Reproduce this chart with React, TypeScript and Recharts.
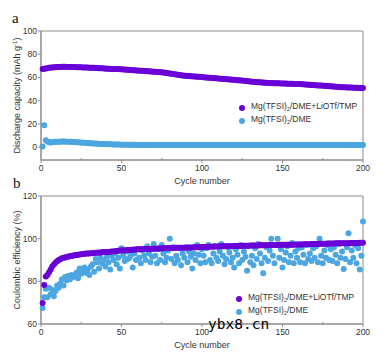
import {
  ScatterChart,
  Scatter,
  XAxis,
  YAxis,
  ReferenceArea,
  Label,
} from 'recharts';

// cycle numbers are 1..200, one point per cycle
const purpleCapacity = [
  67.2, 67.5, 67.8, 68.0, 68.3, 68.5, 68.6, 68.8, 68.9, 69.0,
  69.1, 69.1, 69.2, 69.2, 69.2, 69.1, 69.1, 69.1, 69.0, 69.0,
  69.0, 68.9, 68.9, 68.8, 68.8, 68.7, 68.6, 68.6, 68.5, 68.4,
  68.4, 68.3, 68.3, 68.2, 68.1, 68.0, 67.9, 67.9, 67.8, 67.7,
  67.6, 67.5, 67.5, 67.4, 67.4, 67.3, 67.3, 67.2, 67.1, 67.0,
  66.9, 66.8, 66.7, 66.6, 66.5, 66.4, 66.3, 66.2, 66.1, 66.0,
  65.9, 65.8, 65.7, 65.6, 65.5, 65.4, 65.3, 65.2, 65.1, 65.0,
  64.9, 64.8, 64.7, 64.5, 64.4, 64.2, 64.0, 63.8, 63.6, 63.4,
  63.2, 63.0, 62.8, 62.6, 62.4, 62.2, 62.0, 61.8, 61.6, 61.4,
  61.3, 61.2, 61.1, 61.0, 60.9, 60.8, 60.7, 60.6, 60.5, 60.4,
  60.2, 60.0, 59.9, 59.8, 59.7, 59.6, 59.5, 59.4, 59.3, 59.2,
  59.0, 58.9, 58.8, 58.7, 58.6, 58.5, 58.3, 58.2, 58.1, 58.0,
  57.8, 57.7, 57.6, 57.4, 57.3, 57.2, 57.0, 56.9, 56.7, 56.6,
  56.4, 56.3, 56.2, 56.0, 55.9, 55.8, 55.7, 55.6, 55.5, 55.4,
  55.3, 55.3, 55.2, 55.2, 55.1, 55.1, 55.0, 55.0, 54.9, 54.9,
  54.8, 54.8, 54.7, 54.7, 54.6, 54.6, 54.5, 54.5, 54.4, 54.3,
  54.3, 54.2, 54.1, 54.0, 53.9, 53.8, 53.7, 53.6, 53.5, 53.4,
  53.3, 53.2, 53.1, 53.0, 52.9, 52.8, 52.7, 52.6, 52.5, 52.4,
  52.3, 52.2, 52.1, 52.0, 51.9, 51.8, 51.7, 51.6, 51.5, 51.4,
  51.4, 51.3, 51.3, 51.2, 51.2, 51.1, 51.1, 51.0, 51.0, 50.9,
];

const blueCapacity = [
  0.6, 19.0, 6.0, 5.0, 4.3, 4.0, 4.2, 4.4, 4.6, 4.7,
  4.8, 4.8, 4.9, 4.9, 4.9, 4.8, 4.8, 4.7, 4.6, 4.5,
  4.4, 4.3, 4.2, 4.1, 4.0, 3.9, 3.8, 3.7, 3.6, 3.5,
  3.4, 3.3, 3.2, 3.1, 3.0, 2.9, 2.8, 2.8, 2.7, 2.7,
  2.6, 2.6, 2.5, 2.5, 2.4, 2.4, 2.3, 2.3, 2.3, 2.2,
  2.2, 2.2, 2.2, 2.1, 2.1, 2.1, 2.1, 2.1, 2.0, 2.0,
  2.0, 2.0, 2.0, 2.0, 2.0, 2.0, 2.0, 2.0, 2.0, 2.0,
  2.0, 2.0, 2.0, 2.0, 2.0, 2.0, 2.0, 2.0, 2.0, 2.0,
  2.0, 2.0, 2.0, 2.0, 1.9, 1.9, 1.9, 1.9, 1.9, 1.9,
  1.9, 1.9, 1.9, 1.9, 1.9, 1.9, 1.9, 1.9, 1.9, 1.9,
  1.9, 1.9, 1.9, 1.9, 1.9, 1.9, 1.9, 1.9, 1.9, 1.9,
  1.9, 1.9, 1.9, 1.9, 1.9, 1.9, 1.9, 1.9, 1.9, 1.9,
  1.9, 1.9, 1.9, 1.9, 1.9, 1.9, 1.9, 1.9, 1.9, 1.9,
  1.9, 1.9, 1.9, 1.9, 1.9, 1.9, 1.9, 1.9, 1.9, 1.9,
  1.8, 1.8, 1.8, 1.8, 1.8, 1.8, 1.8, 1.8, 1.8, 1.8,
  1.8, 1.8, 1.8, 1.8, 1.8, 1.8, 1.8, 1.8, 1.8, 1.8,
  1.8, 1.8, 1.8, 1.8, 1.8, 1.8, 1.8, 1.8, 1.8, 1.8,
  1.8, 1.8, 1.8, 1.8, 1.8, 1.8, 1.8, 1.8, 1.8, 1.8,
  1.8, 1.8, 1.8, 1.8, 1.8, 1.8, 1.8, 1.8, 1.8, 1.8,
  1.8, 1.8, 1.8, 1.8, 1.8, 1.8, 1.8, 1.8, 1.8, 1.8,
];

const purpleEfficiency = [
  69.8, 78.3, 82.3, 83.0, 84.3, 85.6, 86.9, 87.9, 88.7, 89.4,
  90.0, 90.4, 90.8, 91.0, 91.2, 91.4, 91.6, 91.8, 91.9, 92.1,
  92.2, 92.4, 92.5, 92.6, 92.7, 92.8, 92.9, 93.0, 93.0, 93.1,
  93.2, 93.2, 93.3, 93.4, 93.4, 93.5, 93.5, 93.6, 93.7, 93.7,
  93.8, 93.8, 93.9, 94.0, 94.0, 94.1, 94.2, 94.3, 94.4, 94.5,
  94.5, 94.6, 94.6, 94.7, 94.7, 94.8, 94.8, 94.9, 94.9, 95.0,
  95.0, 95.0, 95.1, 95.1, 95.1, 95.2, 95.2, 95.2, 95.3, 95.3,
  95.3, 95.4, 95.4, 95.4, 95.5, 95.5, 95.5, 95.5, 95.6, 95.6,
  95.6, 95.6, 95.7, 95.7, 95.7, 95.7, 95.8, 95.8, 95.8, 95.8,
  95.9, 95.9, 95.9, 95.9, 96.0, 96.0, 96.0, 96.0, 96.1, 96.1,
  96.1, 96.1, 96.2, 96.2, 96.2, 96.2, 96.3, 96.3, 96.3, 96.3,
  96.4, 96.4, 96.4, 96.4, 96.5, 96.5, 96.5, 96.5, 96.5, 96.6,
  96.6, 96.6, 96.6, 96.6, 96.7, 96.7, 96.7, 96.7, 96.7, 96.8,
  96.8, 96.8, 96.8, 96.8, 96.8, 96.9, 96.9, 96.9, 96.9, 96.9,
  96.9, 97.0, 97.0, 97.0, 97.0, 97.0, 97.0, 97.1, 97.1, 97.1,
  97.1, 97.1, 97.2, 97.2, 97.2, 97.2, 97.2, 97.3, 97.3, 97.3,
  97.3, 97.3, 97.4, 97.4, 97.4, 97.4, 97.4, 97.5, 97.5, 97.5,
  97.5, 97.5, 97.6, 97.6, 97.6, 97.6, 97.6, 97.7, 97.7, 97.7,
  97.7, 97.7, 97.8, 97.8, 97.8, 97.8, 97.8, 97.9, 97.9, 97.9,
  97.9, 97.9, 98.0, 98.0, 98.0, 98.0, 98.0, 98.1, 98.1, 98.1,
];

const blueEfficiency = [
  67.5, 72.5, 76.5, 72.5, 77, 74, 76, 73, 75.5, 78,
  77, 79, 81, 78, 82, 80.5, 82.5, 81, 83, 82,
  82.5, 84, 81.5, 86, 83.5, 85, 86.5, 84, 85.5, 83,
  87, 88, 84.5, 90.5, 89, 86, 91, 88.5, 90, 87,
  91.5, 89, 85.5, 92, 90, 93, 88, 91, 86, 95.5,
  92, 89.5, 94, 90.5, 91, 92.5, 86.5, 93, 90, 95,
  91, 88.5, 94.5, 92, 90, 96.5, 93, 89, 91.5, 97.5,
  92, 88.5, 95, 90, 97, 93, 89, 91, 94.5, 100,
  90.5, 96, 88.5, 92, 90, 95.5, 87.5, 93, 91, 96,
  89, 94, 91.5, 86, 93, 90, 97, 92.5, 88.5, 95,
  92, 89, 95.5, 97, 90, 88.5, 93, 96.5, 91, 89.5,
  94, 97.5, 92, 88, 90.5, 96, 93.5, 89, 91, 86.5,
  95, 92.5, 88.5, 97, 90, 94, 91.5, 85, 96.5, 89,
  92, 87.5, 95.5, 90.5, 97.5, 93, 88.5, 83.8, 91, 96,
  89.5, 94.5, 100, 92, 88.5, 97, 100, 91, 95, 86.5,
  90, 93.5, 96.5, 89, 92, 98, 88.5, 94, 91, 95.5,
  89, 96, 92.5, 88.5, 97, 90.5, 93, 89.5, 95.5, 91,
  96.5, 89, 100, 92, 88.5, 94.5, 91, 97, 90, 95,
  89.5, 96, 92.5, 88.5, 97.5, 91, 94, 85.8, 90.5, 96,
  102.5, 89, 94.5, 91, 97, 88.5, 95.5, 85.5, 92, 108,
];

const cycleTicks = [0, 25, 50, 75, 100, 125, 150, 175, 200];
const capacityTicks = [-10, 0, 10, 20, 30, 40, 50, 60, 70, 80, 90, 100];
const efficiencyTicks = [60, 70, 80, 90, 100, 110, 120];

const PURPLE = '#6a00d8';
const BLUE = '#4ba6e1';
const AXIS = '#8c8c8c';
const TEXT = '#333';
const FONT = '"Liberation Sans", Arial, sans-serif';

const toPoints = (values: number[]) => values.map((v, i) => ({ x: i + 1, y: v }));

const dot = (color: string) => (props: any) => (
  <circle cx={props.cx} cy={props.cy} r={3} fill={color} />
);

const XTick = (props: any) => {
  const { x, y, payload } = props;
  const major = payload.value % 50 === 0;
  return (
    <g>
      <line x1={x} x2={x} y1={y} y2={major ? y + 3 : y - 2} stroke={AXIS} />
      {major && (
        <text x={x} y={y + 11} textAnchor="middle" fontSize={8.5} fill={TEXT} fontFamily={FONT}>
          {payload.value}
        </text>
      )}
    </g>
  );
};

const yTick = (majorStep: number, hideBelow: number) => (props: any) => {
  const { x, y, payload } = props;
  const major = payload.value % majorStep === 0 && payload.value >= hideBelow;
  return (
    <g>
      <line x1={x} x2={major ? x - 3 : x + 2} y1={y} y2={y} stroke={AXIS} />
      {major && (
        <text x={x - 4} y={y + 3} textAnchor="end" fontSize={8.5} fill={TEXT} fontFamily={FONT}>
          {payload.value}
        </text>
      )}
    </g>
  );
};

const XTitle = (props: any) => {
  const vb = props.viewBox;
  return (
    <text x={vb.x + vb.width / 2} y={vb.y + 24} textAnchor="middle" fontSize={9} fill={TEXT} fontFamily={FONT}>
      Cycle number
    </text>
  );
};

const CapacityTitle = (props: any) => {
  const vb = props.viewBox;
  const cy = vb.y + vb.height / 2;
  return (
    <text x={20} y={cy} transform={`rotate(-90, 20, ${cy})`} textAnchor="middle" fontSize={9} fill={TEXT} fontFamily={FONT}>
      Discharge capacity (mAh g
      <tspan dy={-3} fontSize={6}>-1</tspan>
      <tspan dy={3}>)</tspan>
    </text>
  );
};

const EfficiencyTitle = (props: any) => {
  const vb = props.viewBox;
  const cy = vb.y + vb.height / 2;
  return (
    <text x={20} y={cy} transform={`rotate(-90, 20, ${cy})`} textAnchor="middle" fontSize={9} fill={TEXT} fontFamily={FONT}>
      Coulombic efficiency (%)
    </text>
  );
};

const LegendRow = ({ color, extra }: { color: string; extra: string }) => (
  <div style={{ display: 'flex', alignItems: 'center', height: 13 }}>
    <span
      style={{
        width: 6,
        height: 6,
        borderRadius: 3,
        background: color,
        display: 'inline-block',
        marginRight: 6,
      }}
    />
    <span>
      Mg(TFSI)<sub style={{ fontSize: 5.5, verticalAlign: -2 }}>2</sub>/DME{extra}
    </span>
  </div>
);

const Legend2 = ({ left, top }: { left: number; top: number }) => (
  <div
    style={{
      position: 'absolute',
      left,
      top,
      fontFamily: FONT,
      fontSize: 8.5,
      color: TEXT,
      lineHeight: '13px',
    }}
  >
    <LegendRow color={PURPLE} extra="+LiOTf/TMP" />
    <LegendRow color={BLUE} extra="" />
  </div>
);

const panelLetter = (left: number, top: number, text: string) => (
  <div
    style={{
      position: 'absolute',
      left,
      top,
      fontFamily: '"Liberation Serif", "Times New Roman", serif',
      fontSize: 15,
      color: '#111',
      lineHeight: '15px',
    }}
  >
    {text}
  </div>
);

export default function App() {
  return (
    <div style={{ position: 'absolute', left: 0, top: 0, width: 387, height: 355, background: '#fff' }}>
      <div style={{ position: 'absolute', left: 0, top: 0 }}>
        <ScatterChart width={387} height={190} margin={{ top: 31, right: 24, bottom: 0, left: 0 }}>
          <XAxis
            type="number"
            dataKey="x"
            domain={[0, 200]}
            ticks={cycleTicks}
            height={30}
            tickSize={0}
            tickMargin={0}
            tick={XTick}
            axisLine={{ stroke: AXIS }}
          >
            <Label content={XTitle} />
          </XAxis>
          <YAxis
            type="number"
            dataKey="y"
            domain={[-11, 100]}
            ticks={capacityTicks}
            width={41}
            tickSize={0}
            tickMargin={0}
            tick={yTick(20, 0)}
            axisLine={{ stroke: AXIS }}
          >
            <Label content={CapacityTitle} />
          </YAxis>
          <ReferenceArea x1={0} x2={200} y1={-11} y2={100} fill="none" stroke={AXIS} />
          <Scatter data={toPoints(blueCapacity)} shape={dot(BLUE)} isAnimationActive={false} />
          <Scatter data={toPoints(purpleCapacity)} shape={dot(PURPLE)} isAnimationActive={false} />
        </ScatterChart>
      </div>

      <div style={{ position: 'absolute', left: 0, top: 180 }}>
        <ScatterChart width={387} height={175} margin={{ top: 16, right: 24, bottom: 0, left: 0 }}>
          <XAxis
            type="number"
            dataKey="x"
            domain={[0, 200]}
            ticks={cycleTicks}
            height={31}
            tickSize={0}
            tickMargin={0}
            tick={XTick}
            axisLine={{ stroke: AXIS }}
          >
            <Label content={XTitle} />
          </XAxis>
          <YAxis
            type="number"
            dataKey="y"
            domain={[60, 120]}
            ticks={efficiencyTicks}
            width={41}
            tickSize={0}
            tickMargin={0}
            tick={yTick(20, 60)}
            axisLine={{ stroke: AXIS }}
          >
            <Label content={EfficiencyTitle} />
          </YAxis>
          <ReferenceArea x1={0} x2={200} y1={60} y2={120} fill="none" stroke={AXIS} />
          <Scatter data={toPoints(blueEfficiency)} shape={dot(BLUE)} isAnimationActive={false} />
          <Scatter data={toPoints(purpleEfficiency)} shape={dot(PURPLE)} isAnimationActive={false} />
        </ScatterChart>
      </div>

      {panelLetter(12, 11, 'a')}
      {panelLetter(13, 176, 'b')}
      <Legend2 left={239} top={101} />
      <Legend2 left={236} top={292} />
      <div
        style={{
          position: 'absolute',
          left: 208,
          top: 316,
          fontFamily: '"DejaVu Sans Mono", monospace',
          fontSize: 14.5,
          color: '#000',
        }}
      >
        ybx8.cn
      </div>
    </div>
  );
}
